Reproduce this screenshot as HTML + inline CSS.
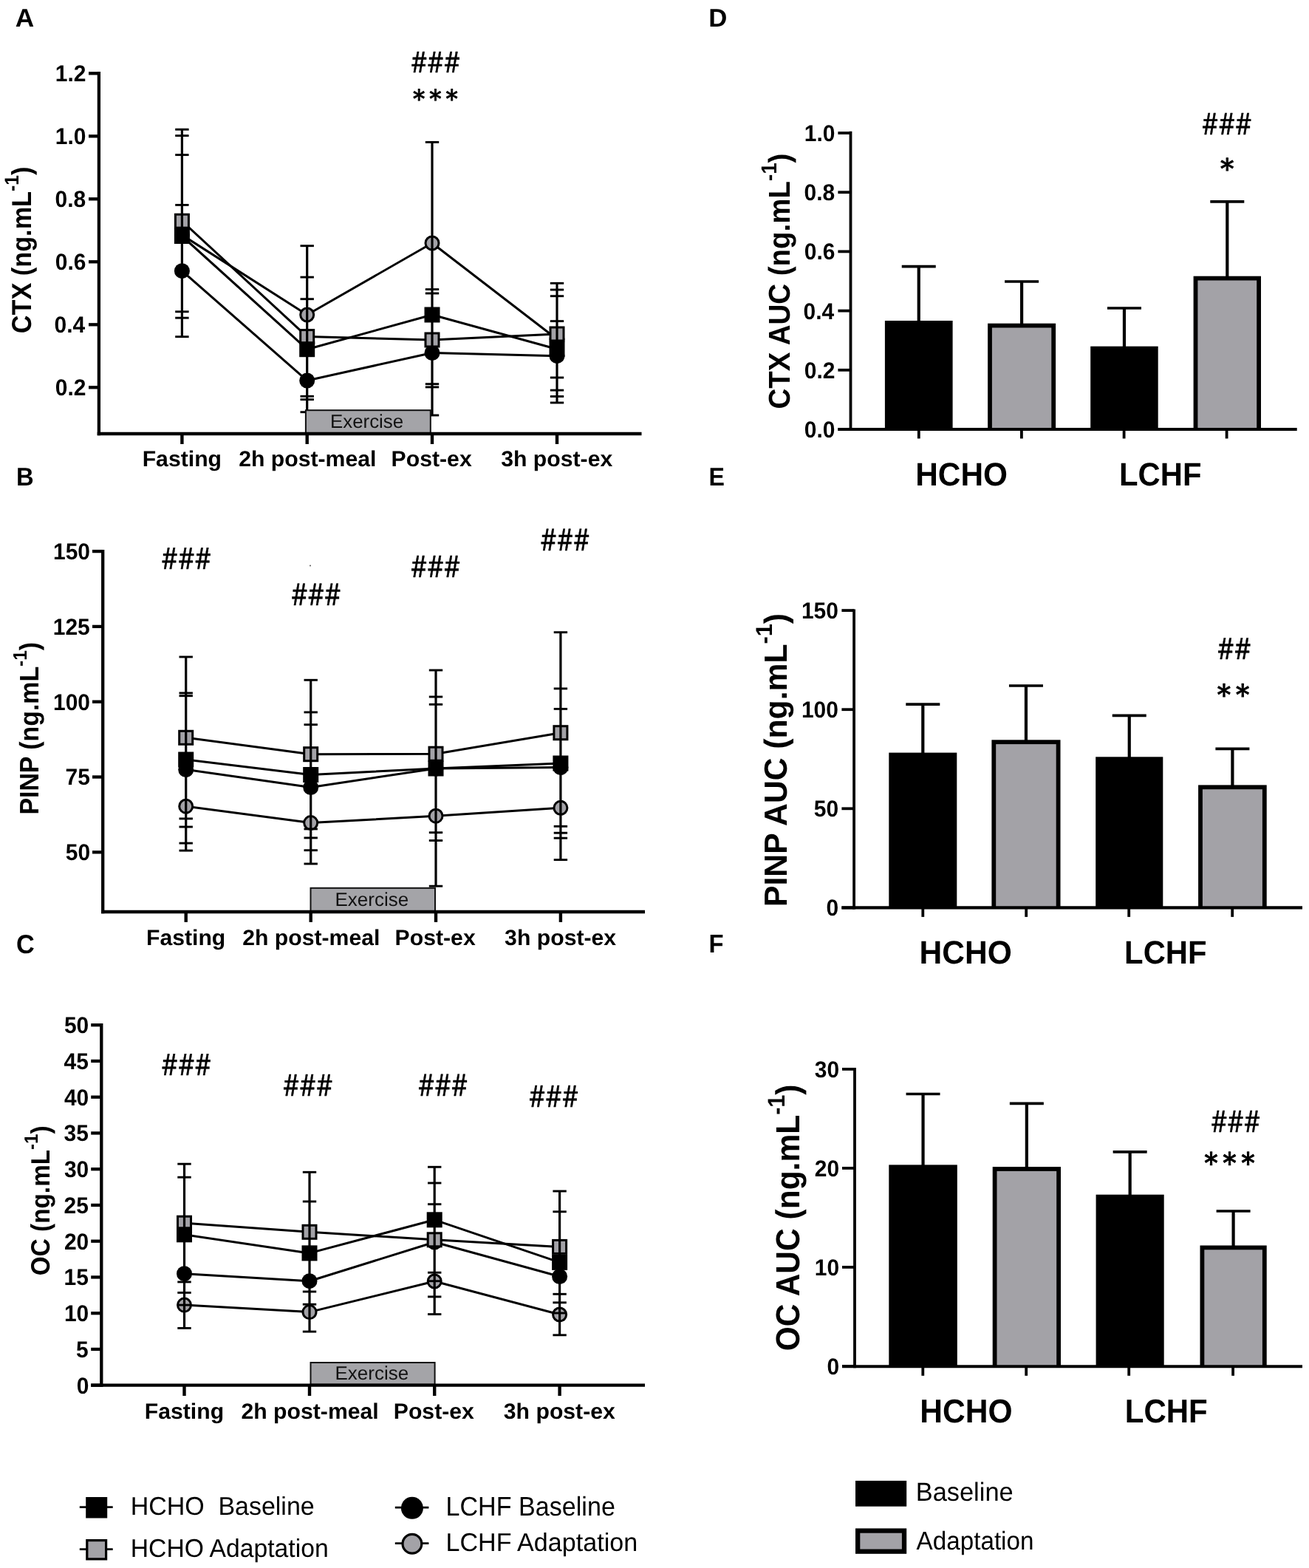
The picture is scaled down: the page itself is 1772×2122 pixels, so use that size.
<!DOCTYPE html>
<html><head><meta charset="utf-8"><title>Figure</title>
<style>html,body{margin:0;padding:0;background:#fff;}svg{display:block;}</style></head>
<body>
<svg width="1772" height="2122" viewBox="0 0 1772 2122" text-rendering="geometricPrecision">
<rect width="1772" height="2122" fill="#fff"/>
<text transform="matrix(0.353,0,0,0.3464,20.8409,35.8)" font-size="100" font-family="&quot;Liberation Sans&quot;, sans-serif" font-weight="bold" fill="#000">A</text>
<polyline points="246.4,318 415.7,426 585,329 754,459" fill="none" stroke="#000" stroke-width="3" stroke-linejoin="round"/>
<polyline points="246.4,366.7 415.7,515 585,477.5 754,481.7" fill="none" stroke="#000" stroke-width="3" stroke-linejoin="round"/>
<polyline points="246.4,299.2 415.7,455.6 585,460 754,452" fill="none" stroke="#000" stroke-width="3" stroke-linejoin="round"/>
<polyline points="246.4,319.5 415.7,472.7 585,426 754,472.5" fill="none" stroke="#000" stroke-width="3" stroke-linejoin="round"/>
<circle cx="246.4" cy="318" r="9" fill="#a3a2a7" stroke="#000" stroke-width="3"/>
<circle cx="415.7" cy="426" r="9" fill="#a3a2a7" stroke="#000" stroke-width="3"/>
<circle cx="585" cy="329" r="9" fill="#a3a2a7" stroke="#000" stroke-width="3"/>
<circle cx="754" cy="459" r="9" fill="#a3a2a7" stroke="#000" stroke-width="3"/>
<circle cx="246.4" cy="366.7" r="10.5" fill="#000"/>
<circle cx="415.7" cy="515" r="10.5" fill="#000"/>
<circle cx="585" cy="477.5" r="10.5" fill="#000"/>
<circle cx="754" cy="481.7" r="10.5" fill="#000"/>
<rect x="237.4" y="290.2" width="18" height="18" fill="#a3a2a7" stroke="#000" stroke-width="3"/>
<rect x="406.7" y="446.6" width="18" height="18" fill="#a3a2a7" stroke="#000" stroke-width="3"/>
<rect x="576" y="451" width="18" height="18" fill="#a3a2a7" stroke="#000" stroke-width="3"/>
<rect x="745" y="443" width="18" height="18" fill="#a3a2a7" stroke="#000" stroke-width="3"/>
<rect x="235.9" y="309" width="21" height="21" fill="#000"/>
<rect x="405.2" y="462.2" width="21" height="21" fill="#000"/>
<rect x="574.5" y="415.5" width="21" height="21" fill="#000"/>
<rect x="743.5" y="462" width="21" height="21" fill="#000"/>
<line x1="246.4" y1="175.2" x2="246.4" y2="455.7" stroke="#000" stroke-width="3.2" stroke-linecap="butt"/>
<line x1="237.2" y1="175.2" x2="255.6" y2="175.2" stroke="#000" stroke-width="2.9" stroke-linecap="butt"/>
<line x1="237.2" y1="183.6" x2="255.6" y2="183.6" stroke="#000" stroke-width="2.9" stroke-linecap="butt"/>
<line x1="237.2" y1="209.6" x2="255.6" y2="209.6" stroke="#000" stroke-width="2.9" stroke-linecap="butt"/>
<line x1="237.2" y1="277.4" x2="255.6" y2="277.4" stroke="#000" stroke-width="2.9" stroke-linecap="butt"/>
<line x1="237.2" y1="421.8" x2="255.6" y2="421.8" stroke="#000" stroke-width="2.9" stroke-linecap="butt"/>
<line x1="237.2" y1="430.2" x2="255.6" y2="430.2" stroke="#000" stroke-width="2.9" stroke-linecap="butt"/>
<line x1="237.2" y1="455.7" x2="255.6" y2="455.7" stroke="#000" stroke-width="2.9" stroke-linecap="butt"/>
<line x1="415.7" y1="332.7" x2="415.7" y2="557.7" stroke="#000" stroke-width="3.2" stroke-linecap="butt"/>
<line x1="406.5" y1="332.7" x2="424.9" y2="332.7" stroke="#000" stroke-width="2.9" stroke-linecap="butt"/>
<line x1="406.5" y1="375.1" x2="424.9" y2="375.1" stroke="#000" stroke-width="2.9" stroke-linecap="butt"/>
<line x1="406.5" y1="404.7" x2="424.9" y2="404.7" stroke="#000" stroke-width="2.9" stroke-linecap="butt"/>
<line x1="406.5" y1="536.3" x2="424.9" y2="536.3" stroke="#000" stroke-width="2.9" stroke-linecap="butt"/>
<line x1="406.5" y1="540.7" x2="424.9" y2="540.7" stroke="#000" stroke-width="2.9" stroke-linecap="butt"/>
<line x1="406.5" y1="557.7" x2="424.9" y2="557.7" stroke="#000" stroke-width="2.9" stroke-linecap="butt"/>
<line x1="585" y1="192.4" x2="585" y2="562" stroke="#000" stroke-width="3.2" stroke-linecap="butt"/>
<line x1="575.8" y1="192.4" x2="594.2" y2="192.4" stroke="#000" stroke-width="2.9" stroke-linecap="butt"/>
<line x1="575.8" y1="391.6" x2="594.2" y2="391.6" stroke="#000" stroke-width="2.9" stroke-linecap="butt"/>
<line x1="575.8" y1="397" x2="594.2" y2="397" stroke="#000" stroke-width="2.9" stroke-linecap="butt"/>
<line x1="575.8" y1="519.7" x2="594.2" y2="519.7" stroke="#000" stroke-width="2.9" stroke-linecap="butt"/>
<line x1="575.8" y1="523.9" x2="594.2" y2="523.9" stroke="#000" stroke-width="2.9" stroke-linecap="butt"/>
<line x1="575.8" y1="562" x2="594.2" y2="562" stroke="#000" stroke-width="2.9" stroke-linecap="butt"/>
<line x1="754" y1="383.3" x2="754" y2="545" stroke="#000" stroke-width="3.2" stroke-linecap="butt"/>
<line x1="744.8" y1="383.3" x2="763.2" y2="383.3" stroke="#000" stroke-width="2.9" stroke-linecap="butt"/>
<line x1="744.8" y1="392.1" x2="763.2" y2="392.1" stroke="#000" stroke-width="2.9" stroke-linecap="butt"/>
<line x1="744.8" y1="400.7" x2="763.2" y2="400.7" stroke="#000" stroke-width="2.9" stroke-linecap="butt"/>
<line x1="744.8" y1="434.6" x2="763.2" y2="434.6" stroke="#000" stroke-width="2.9" stroke-linecap="butt"/>
<line x1="744.8" y1="511" x2="763.2" y2="511" stroke="#000" stroke-width="2.9" stroke-linecap="butt"/>
<line x1="744.8" y1="528.1" x2="763.2" y2="528.1" stroke="#000" stroke-width="2.9" stroke-linecap="butt"/>
<line x1="744.8" y1="536.5" x2="763.2" y2="536.5" stroke="#000" stroke-width="2.9" stroke-linecap="butt"/>
<line x1="744.8" y1="545" x2="763.2" y2="545" stroke="#000" stroke-width="2.9" stroke-linecap="butt"/>
<rect x="413.9" y="555.2" width="168.9" height="30.8" fill="#a4a4a8" stroke="#111" stroke-width="2"/>
<text transform="matrix(0.2588,0,0,0.258,446.9299,579.3)" font-size="100" font-family="&quot;Liberation Sans&quot;, sans-serif" font-weight="normal" fill="#111">Exercise</text>
<line x1="133.9" y1="97.1" x2="133.9" y2="589.2" stroke="#000" stroke-width="4.3" stroke-linecap="butt"/>
<line x1="131.7" y1="587" x2="868.5" y2="587" stroke="#000" stroke-width="4.3" stroke-linecap="butt"/>
<line x1="120" y1="99.3" x2="133.9" y2="99.3" stroke="#000" stroke-width="4.3" stroke-linecap="butt"/>
<line x1="120" y1="184.3" x2="133.9" y2="184.3" stroke="#000" stroke-width="4.3" stroke-linecap="butt"/>
<line x1="120" y1="269.3" x2="133.9" y2="269.3" stroke="#000" stroke-width="4.3" stroke-linecap="butt"/>
<line x1="120" y1="354.3" x2="133.9" y2="354.3" stroke="#000" stroke-width="4.3" stroke-linecap="butt"/>
<line x1="120" y1="439.3" x2="133.9" y2="439.3" stroke="#000" stroke-width="4.3" stroke-linecap="butt"/>
<line x1="120" y1="524.3" x2="133.9" y2="524.3" stroke="#000" stroke-width="4.3" stroke-linecap="butt"/>
<line x1="246.4" y1="587" x2="246.4" y2="601" stroke="#000" stroke-width="4.4" stroke-linecap="butt"/>
<line x1="415.7" y1="587" x2="415.7" y2="601" stroke="#000" stroke-width="4.4" stroke-linecap="butt"/>
<line x1="585" y1="587" x2="585" y2="601" stroke="#000" stroke-width="4.4" stroke-linecap="butt"/>
<line x1="754" y1="587" x2="754" y2="601" stroke="#000" stroke-width="4.4" stroke-linecap="butt"/>
<text transform="matrix(0.3736,0,0,0.4101,555.8793,97.5)" font-size="100" font-family="&quot;WenQuanYi Zen Hei&quot;, &quot;Liberation Sans&quot;, sans-serif" font-weight="normal" fill="#000" stroke="#000" stroke-width="1" stroke-linejoin="round">###</text>
<text transform="matrix(0.3698,0,0,0.3733,556.0722,146.2333)" font-size="100" font-family="&quot;WenQuanYi Zen Hei&quot;, &quot;Liberation Sans&quot;, sans-serif" font-weight="normal" fill="#000" stroke="#000" stroke-width="2.5" stroke-linejoin="round">***</text>
<text transform="matrix(0,-0.3428,0.3725,0,41.8,451.2713)" font-size="100" font-family="&quot;Liberation Sans&quot;, sans-serif" font-weight="bold" fill="#000">CTX (ng.mL<tspan font-size="72" dy="-45">-1</tspan><tspan dy="45">)</tspan></text>
<text transform="matrix(0.3279,0,0,0.3464,21.9049,656.9)" font-size="100" font-family="&quot;Liberation Sans&quot;, sans-serif" font-weight="bold" fill="#000">B</text>
<polyline points="251.7,1091.2 420.7,1113.6 590,1104.2 758.9,1093.3" fill="none" stroke="#000" stroke-width="3" stroke-linejoin="round"/>
<polyline points="251.7,1041.5 420.7,1065.5 590,1040 758.9,1038.5" fill="none" stroke="#000" stroke-width="3" stroke-linejoin="round"/>
<polyline points="251.7,998.3 420.7,1020.7 590,1020.2 758.9,991.7" fill="none" stroke="#000" stroke-width="3" stroke-linejoin="round"/>
<polyline points="251.7,1028 420.7,1048.5 590,1040 758.9,1033" fill="none" stroke="#000" stroke-width="3" stroke-linejoin="round"/>
<circle cx="251.7" cy="1091.2" r="9" fill="#a3a2a7" stroke="#000" stroke-width="3"/>
<circle cx="420.7" cy="1113.6" r="9" fill="#a3a2a7" stroke="#000" stroke-width="3"/>
<circle cx="590" cy="1104.2" r="9" fill="#a3a2a7" stroke="#000" stroke-width="3"/>
<circle cx="758.9" cy="1093.3" r="9" fill="#a3a2a7" stroke="#000" stroke-width="3"/>
<circle cx="251.7" cy="1041.5" r="10.5" fill="#000"/>
<circle cx="420.7" cy="1065.5" r="10.5" fill="#000"/>
<circle cx="590" cy="1040" r="10.5" fill="#000"/>
<circle cx="758.9" cy="1038.5" r="10.5" fill="#000"/>
<rect x="242.7" y="989.3" width="18" height="18" fill="#a3a2a7" stroke="#000" stroke-width="3"/>
<rect x="411.7" y="1011.7" width="18" height="18" fill="#a3a2a7" stroke="#000" stroke-width="3"/>
<rect x="581" y="1011.2" width="18" height="18" fill="#a3a2a7" stroke="#000" stroke-width="3"/>
<rect x="749.9" y="982.7" width="18" height="18" fill="#a3a2a7" stroke="#000" stroke-width="3"/>
<rect x="241.2" y="1017.5" width="21" height="21" fill="#000"/>
<rect x="410.2" y="1038" width="21" height="21" fill="#000"/>
<rect x="579.5" y="1029.5" width="21" height="21" fill="#000"/>
<rect x="748.4" y="1022.5" width="21" height="21" fill="#000"/>
<line x1="251.7" y1="889" x2="251.7" y2="1151.1" stroke="#000" stroke-width="3.2" stroke-linecap="butt"/>
<line x1="242.5" y1="889" x2="260.9" y2="889" stroke="#000" stroke-width="2.9" stroke-linecap="butt"/>
<line x1="242.5" y1="937.9" x2="260.9" y2="937.9" stroke="#000" stroke-width="2.9" stroke-linecap="butt"/>
<line x1="242.5" y1="941.7" x2="260.9" y2="941.7" stroke="#000" stroke-width="2.9" stroke-linecap="butt"/>
<line x1="242.5" y1="1107.9" x2="260.9" y2="1107.9" stroke="#000" stroke-width="2.9" stroke-linecap="butt"/>
<line x1="242.5" y1="1119" x2="260.9" y2="1119" stroke="#000" stroke-width="2.9" stroke-linecap="butt"/>
<line x1="242.5" y1="1141.1" x2="260.9" y2="1141.1" stroke="#000" stroke-width="2.9" stroke-linecap="butt"/>
<line x1="242.5" y1="1151.1" x2="260.9" y2="1151.1" stroke="#000" stroke-width="2.9" stroke-linecap="butt"/>
<line x1="420.7" y1="920.3" x2="420.7" y2="1169" stroke="#000" stroke-width="3.2" stroke-linecap="butt"/>
<line x1="411.5" y1="920.3" x2="429.9" y2="920.3" stroke="#000" stroke-width="2.9" stroke-linecap="butt"/>
<line x1="411.5" y1="963.9" x2="429.9" y2="963.9" stroke="#000" stroke-width="2.9" stroke-linecap="butt"/>
<line x1="411.5" y1="980.7" x2="429.9" y2="980.7" stroke="#000" stroke-width="2.9" stroke-linecap="butt"/>
<line x1="411.5" y1="1121.9" x2="429.9" y2="1121.9" stroke="#000" stroke-width="2.9" stroke-linecap="butt"/>
<line x1="411.5" y1="1133.9" x2="429.9" y2="1133.9" stroke="#000" stroke-width="2.9" stroke-linecap="butt"/>
<line x1="411.5" y1="1150.7" x2="429.9" y2="1150.7" stroke="#000" stroke-width="2.9" stroke-linecap="butt"/>
<line x1="411.5" y1="1169" x2="429.9" y2="1169" stroke="#000" stroke-width="2.9" stroke-linecap="butt"/>
<line x1="590" y1="907" x2="590" y2="1199.2" stroke="#000" stroke-width="3.2" stroke-linecap="butt"/>
<line x1="580.8" y1="907" x2="599.2" y2="907" stroke="#000" stroke-width="2.9" stroke-linecap="butt"/>
<line x1="580.8" y1="943" x2="599.2" y2="943" stroke="#000" stroke-width="2.9" stroke-linecap="butt"/>
<line x1="580.8" y1="953.3" x2="599.2" y2="953.3" stroke="#000" stroke-width="2.9" stroke-linecap="butt"/>
<line x1="580.8" y1="1126.7" x2="599.2" y2="1126.7" stroke="#000" stroke-width="2.9" stroke-linecap="butt"/>
<line x1="580.8" y1="1137.5" x2="599.2" y2="1137.5" stroke="#000" stroke-width="2.9" stroke-linecap="butt"/>
<line x1="580.8" y1="1199.2" x2="599.2" y2="1199.2" stroke="#000" stroke-width="2.9" stroke-linecap="butt"/>
<line x1="758.9" y1="855.7" x2="758.9" y2="1163.6" stroke="#000" stroke-width="3.2" stroke-linecap="butt"/>
<line x1="749.7" y1="855.7" x2="768.1" y2="855.7" stroke="#000" stroke-width="2.9" stroke-linecap="butt"/>
<line x1="749.7" y1="931.9" x2="768.1" y2="931.9" stroke="#000" stroke-width="2.9" stroke-linecap="butt"/>
<line x1="749.7" y1="959.4" x2="768.1" y2="959.4" stroke="#000" stroke-width="2.9" stroke-linecap="butt"/>
<line x1="749.7" y1="1118.3" x2="768.1" y2="1118.3" stroke="#000" stroke-width="2.9" stroke-linecap="butt"/>
<line x1="749.7" y1="1127.2" x2="768.1" y2="1127.2" stroke="#000" stroke-width="2.9" stroke-linecap="butt"/>
<line x1="749.7" y1="1134.2" x2="768.1" y2="1134.2" stroke="#000" stroke-width="2.9" stroke-linecap="butt"/>
<line x1="749.7" y1="1163.6" x2="768.1" y2="1163.6" stroke="#000" stroke-width="2.9" stroke-linecap="butt"/>
<rect x="420.5" y="1201.8" width="168.5" height="31.2" fill="#a4a4a8" stroke="#111" stroke-width="2"/>
<text transform="matrix(0.2596,0,0,0.258,453.5235,1225.8)" font-size="100" font-family="&quot;Liberation Sans&quot;, sans-serif" font-weight="normal" fill="#111">Exercise</text>
<line x1="139.2" y1="743.9" x2="139.2" y2="1236.2" stroke="#000" stroke-width="4.3" stroke-linecap="butt"/>
<line x1="137" y1="1234" x2="873" y2="1234" stroke="#000" stroke-width="4.3" stroke-linecap="butt"/>
<line x1="125" y1="746.1" x2="139.2" y2="746.1" stroke="#000" stroke-width="4.3" stroke-linecap="butt"/>
<line x1="125" y1="847.9" x2="139.2" y2="847.9" stroke="#000" stroke-width="4.3" stroke-linecap="butt"/>
<line x1="125" y1="949.7" x2="139.2" y2="949.7" stroke="#000" stroke-width="4.3" stroke-linecap="butt"/>
<line x1="125" y1="1051.5" x2="139.2" y2="1051.5" stroke="#000" stroke-width="4.3" stroke-linecap="butt"/>
<line x1="125" y1="1153.3" x2="139.2" y2="1153.3" stroke="#000" stroke-width="4.3" stroke-linecap="butt"/>
<line x1="251.7" y1="1234" x2="251.7" y2="1247.9" stroke="#000" stroke-width="4.4" stroke-linecap="butt"/>
<line x1="420.7" y1="1234" x2="420.7" y2="1247.9" stroke="#000" stroke-width="4.4" stroke-linecap="butt"/>
<line x1="590" y1="1234" x2="590" y2="1247.9" stroke="#000" stroke-width="4.4" stroke-linecap="butt"/>
<line x1="758.9" y1="1234" x2="758.9" y2="1247.9" stroke="#000" stroke-width="4.4" stroke-linecap="butt"/>
<text transform="matrix(0.3759,0,0,0.4203,218.3724,770.2)" font-size="100" font-family="&quot;WenQuanYi Zen Hei&quot;, &quot;Liberation Sans&quot;, sans-serif" font-weight="normal" fill="#000" stroke="#000" stroke-width="1" stroke-linejoin="round">###</text>
<text transform="matrix(0.3759,0,0,0.4261,393.9724,818.5)" font-size="100" font-family="&quot;WenQuanYi Zen Hei&quot;, &quot;Liberation Sans&quot;, sans-serif" font-weight="normal" fill="#000" stroke="#000" stroke-width="1" stroke-linejoin="round">###</text>
<text transform="matrix(0.3759,0,0,0.4246,555.6724,781.2)" font-size="100" font-family="&quot;WenQuanYi Zen Hei&quot;, &quot;Liberation Sans&quot;, sans-serif" font-weight="normal" fill="#000" stroke="#000" stroke-width="1" stroke-linejoin="round">###</text>
<text transform="matrix(0.373,0,0,0.4275,731.281,745)" font-size="100" font-family="&quot;WenQuanYi Zen Hei&quot;, &quot;Liberation Sans&quot;, sans-serif" font-weight="normal" fill="#000" stroke="#000" stroke-width="1" stroke-linejoin="round">###</text>
<text transform="matrix(0,-0.3386,0.3623,0,52.4,1102.5705)" font-size="100" font-family="&quot;Liberation Sans&quot;, sans-serif" font-weight="bold" fill="#000">PINP (ng.mL<tspan font-size="72" dy="-45">-1</tspan><tspan dy="45">)</tspan></text>
<circle cx="420" cy="765.5" r="0.9" fill="#444"/>
<text transform="matrix(0.3431,0,0,0.3563,21.9277,1289.7437)" font-size="100" font-family="&quot;Liberation Sans&quot;, sans-serif" font-weight="bold" fill="#000">C</text>
<polyline points="249.5,1766.1 419,1775.6 588.2,1734 757.6,1779" fill="none" stroke="#000" stroke-width="3" stroke-linejoin="round"/>
<polyline points="249.5,1723.7 419,1733.7 588.2,1681 757.6,1727.5" fill="none" stroke="#000" stroke-width="3" stroke-linejoin="round"/>
<polyline points="249.5,1655.2 419,1667.3 588.2,1677.8 757.6,1687.4" fill="none" stroke="#000" stroke-width="3" stroke-linejoin="round"/>
<polyline points="249.5,1670.8 419,1695.9 588.2,1650.8 757.6,1708.4" fill="none" stroke="#000" stroke-width="3" stroke-linejoin="round"/>
<circle cx="249.5" cy="1766.1" r="9" fill="#a3a2a7" stroke="#000" stroke-width="3"/>
<circle cx="419" cy="1775.6" r="9" fill="#a3a2a7" stroke="#000" stroke-width="3"/>
<circle cx="588.2" cy="1734" r="9" fill="#a3a2a7" stroke="#000" stroke-width="3"/>
<circle cx="757.6" cy="1779" r="9" fill="#a3a2a7" stroke="#000" stroke-width="3"/>
<circle cx="249.5" cy="1723.7" r="10.5" fill="#000"/>
<circle cx="419" cy="1733.7" r="10.5" fill="#000"/>
<circle cx="588.2" cy="1681" r="10.5" fill="#000"/>
<circle cx="757.6" cy="1727.5" r="10.5" fill="#000"/>
<rect x="240.5" y="1646.2" width="18" height="18" fill="#a3a2a7" stroke="#000" stroke-width="3"/>
<rect x="410" y="1658.3" width="18" height="18" fill="#a3a2a7" stroke="#000" stroke-width="3"/>
<rect x="579.2" y="1668.8" width="18" height="18" fill="#a3a2a7" stroke="#000" stroke-width="3"/>
<rect x="748.6" y="1678.4" width="18" height="18" fill="#a3a2a7" stroke="#000" stroke-width="3"/>
<rect x="239" y="1660.3" width="21" height="21" fill="#000"/>
<rect x="408.5" y="1685.4" width="21" height="21" fill="#000"/>
<rect x="577.7" y="1640.3" width="21" height="21" fill="#000"/>
<rect x="747.1" y="1697.9" width="21" height="21" fill="#000"/>
<line x1="249.5" y1="1575.2" x2="249.5" y2="1797.4" stroke="#000" stroke-width="3.2" stroke-linecap="butt"/>
<line x1="240.3" y1="1575.2" x2="258.7" y2="1575.2" stroke="#000" stroke-width="2.9" stroke-linecap="butt"/>
<line x1="240.3" y1="1593.2" x2="258.7" y2="1593.2" stroke="#000" stroke-width="2.9" stroke-linecap="butt"/>
<line x1="240.3" y1="1734.9" x2="258.7" y2="1734.9" stroke="#000" stroke-width="2.9" stroke-linecap="butt"/>
<line x1="240.3" y1="1749.4" x2="258.7" y2="1749.4" stroke="#000" stroke-width="2.9" stroke-linecap="butt"/>
<line x1="240.3" y1="1766.1" x2="258.7" y2="1766.1" stroke="#000" stroke-width="2.9" stroke-linecap="butt"/>
<line x1="240.3" y1="1797.4" x2="258.7" y2="1797.4" stroke="#000" stroke-width="2.9" stroke-linecap="butt"/>
<line x1="419" y1="1586.3" x2="419" y2="1802.1" stroke="#000" stroke-width="3.2" stroke-linecap="butt"/>
<line x1="409.8" y1="1586.3" x2="428.2" y2="1586.3" stroke="#000" stroke-width="2.9" stroke-linecap="butt"/>
<line x1="409.8" y1="1626" x2="428.2" y2="1626" stroke="#000" stroke-width="2.9" stroke-linecap="butt"/>
<line x1="409.8" y1="1748" x2="428.2" y2="1748" stroke="#000" stroke-width="2.9" stroke-linecap="butt"/>
<line x1="409.8" y1="1765.2" x2="428.2" y2="1765.2" stroke="#000" stroke-width="2.9" stroke-linecap="butt"/>
<line x1="409.8" y1="1802.1" x2="428.2" y2="1802.1" stroke="#000" stroke-width="2.9" stroke-linecap="butt"/>
<line x1="588.2" y1="1579.3" x2="588.2" y2="1778.6" stroke="#000" stroke-width="3.2" stroke-linecap="butt"/>
<line x1="579" y1="1579.3" x2="597.4" y2="1579.3" stroke="#000" stroke-width="2.9" stroke-linecap="butt"/>
<line x1="579" y1="1601" x2="597.4" y2="1601" stroke="#000" stroke-width="2.9" stroke-linecap="butt"/>
<line x1="579" y1="1629.7" x2="597.4" y2="1629.7" stroke="#000" stroke-width="2.9" stroke-linecap="butt"/>
<line x1="579" y1="1722.2" x2="597.4" y2="1722.2" stroke="#000" stroke-width="2.9" stroke-linecap="butt"/>
<line x1="579" y1="1733.7" x2="597.4" y2="1733.7" stroke="#000" stroke-width="2.9" stroke-linecap="butt"/>
<line x1="579" y1="1754.9" x2="597.4" y2="1754.9" stroke="#000" stroke-width="2.9" stroke-linecap="butt"/>
<line x1="579" y1="1778.6" x2="597.4" y2="1778.6" stroke="#000" stroke-width="2.9" stroke-linecap="butt"/>
<line x1="757.6" y1="1612" x2="757.6" y2="1806.8" stroke="#000" stroke-width="3.2" stroke-linecap="butt"/>
<line x1="748.4" y1="1612" x2="766.8" y2="1612" stroke="#000" stroke-width="2.9" stroke-linecap="butt"/>
<line x1="748.4" y1="1639.8" x2="766.8" y2="1639.8" stroke="#000" stroke-width="2.9" stroke-linecap="butt"/>
<line x1="748.4" y1="1751.3" x2="766.8" y2="1751.3" stroke="#000" stroke-width="2.9" stroke-linecap="butt"/>
<line x1="748.4" y1="1762.8" x2="766.8" y2="1762.8" stroke="#000" stroke-width="2.9" stroke-linecap="butt"/>
<line x1="748.4" y1="1777" x2="766.8" y2="1777" stroke="#000" stroke-width="2.9" stroke-linecap="butt"/>
<line x1="748.4" y1="1806.8" x2="766.8" y2="1806.8" stroke="#000" stroke-width="2.9" stroke-linecap="butt"/>
<rect x="420.5" y="1844" width="168.1" height="29.7" fill="#a4a4a8" stroke="#111" stroke-width="2"/>
<text transform="matrix(0.2596,0,0,0.258,453.5235,1866.8)" font-size="100" font-family="&quot;Liberation Sans&quot;, sans-serif" font-weight="normal" fill="#111">Exercise</text>
<line x1="137.3" y1="1384.9" x2="137.3" y2="1876.9" stroke="#000" stroke-width="4.3" stroke-linecap="butt"/>
<line x1="123.2" y1="1874.7" x2="873" y2="1874.7" stroke="#000" stroke-width="4.3" stroke-linecap="butt"/>
<line x1="123.2" y1="1387.2" x2="137.3" y2="1387.2" stroke="#000" stroke-width="4.3" stroke-linecap="butt"/>
<line x1="123.2" y1="1435.95" x2="137.3" y2="1435.95" stroke="#000" stroke-width="4.3" stroke-linecap="butt"/>
<line x1="123.2" y1="1484.7" x2="137.3" y2="1484.7" stroke="#000" stroke-width="4.3" stroke-linecap="butt"/>
<line x1="123.2" y1="1533.45" x2="137.3" y2="1533.45" stroke="#000" stroke-width="4.3" stroke-linecap="butt"/>
<line x1="123.2" y1="1582.2" x2="137.3" y2="1582.2" stroke="#000" stroke-width="4.3" stroke-linecap="butt"/>
<line x1="123.2" y1="1630.95" x2="137.3" y2="1630.95" stroke="#000" stroke-width="4.3" stroke-linecap="butt"/>
<line x1="123.2" y1="1679.7" x2="137.3" y2="1679.7" stroke="#000" stroke-width="4.3" stroke-linecap="butt"/>
<line x1="123.2" y1="1728.45" x2="137.3" y2="1728.45" stroke="#000" stroke-width="4.3" stroke-linecap="butt"/>
<line x1="123.2" y1="1777.2" x2="137.3" y2="1777.2" stroke="#000" stroke-width="4.3" stroke-linecap="butt"/>
<line x1="123.2" y1="1825.95" x2="137.3" y2="1825.95" stroke="#000" stroke-width="4.3" stroke-linecap="butt"/>
<line x1="123.2" y1="1874.7" x2="137.3" y2="1874.7" stroke="#000" stroke-width="4.3" stroke-linecap="butt"/>
<line x1="249.5" y1="1874.7" x2="249.5" y2="1889" stroke="#000" stroke-width="4.4" stroke-linecap="butt"/>
<line x1="419" y1="1874.7" x2="419" y2="1889" stroke="#000" stroke-width="4.4" stroke-linecap="butt"/>
<line x1="588.2" y1="1874.7" x2="588.2" y2="1889" stroke="#000" stroke-width="4.4" stroke-linecap="butt"/>
<line x1="757.6" y1="1874.7" x2="757.6" y2="1889" stroke="#000" stroke-width="4.4" stroke-linecap="butt"/>
<text transform="matrix(0.3759,0,0,0.4203,218.3724,1455)" font-size="100" font-family="&quot;WenQuanYi Zen Hei&quot;, &quot;Liberation Sans&quot;, sans-serif" font-weight="normal" fill="#000" stroke="#000" stroke-width="1" stroke-linejoin="round">###</text>
<text transform="matrix(0.3764,0,0,0.4232,382.7707,1483.1)" font-size="100" font-family="&quot;WenQuanYi Zen Hei&quot;, &quot;Liberation Sans&quot;, sans-serif" font-weight="normal" fill="#000" stroke="#000" stroke-width="1" stroke-linejoin="round">###</text>
<text transform="matrix(0.3764,0,0,0.4275,565.6707,1483.1)" font-size="100" font-family="&quot;WenQuanYi Zen Hei&quot;, &quot;Liberation Sans&quot;, sans-serif" font-weight="normal" fill="#000" stroke="#000" stroke-width="1" stroke-linejoin="round">###</text>
<text transform="matrix(0.3759,0,0,0.4232,715.7724,1498.3)" font-size="100" font-family="&quot;WenQuanYi Zen Hei&quot;, &quot;Liberation Sans&quot;, sans-serif" font-weight="normal" fill="#000" stroke="#000" stroke-width="1" stroke-linejoin="round">###</text>
<text transform="matrix(0,-0.3331,0.358,0,67.2,1726.1322)" font-size="100" font-family="&quot;Liberation Sans&quot;, sans-serif" font-weight="bold" fill="#000">OC (ng.mL<tspan font-size="72" dy="-45">-1</tspan><tspan dy="45">)</tspan></text>
<text transform="matrix(0.3475,0,0,0.3464,959.2672,35.8)" font-size="100" font-family="&quot;Liberation Sans&quot;, sans-serif" font-weight="bold" fill="#000">D</text>
<rect x="1197.9" y="434" width="91.7" height="147" fill="#000"/>
<rect x="1337.1" y="437.7" width="92" height="143.3" fill="#000"/>
<rect x="1342.9" y="443.5" width="80.4" height="137.5" fill="#a3a2a7"/>
<rect x="1476.2" y="468.7" width="91.5" height="112.3" fill="#000"/>
<rect x="1615.6" y="373.7" width="91.4" height="207.3" fill="#000"/>
<rect x="1621.4" y="379.5" width="79.8" height="201.5" fill="#a3a2a7"/>
<line x1="1243.75" y1="360.7" x2="1243.75" y2="435" stroke="#000" stroke-width="4.2" stroke-linecap="butt"/>
<line x1="1220.75" y1="360.7" x2="1266.75" y2="360.7" stroke="#000" stroke-width="3.7" stroke-linecap="butt"/>
<line x1="1383.1" y1="381" x2="1383.1" y2="438.7" stroke="#000" stroke-width="4.2" stroke-linecap="butt"/>
<line x1="1360.1" y1="381" x2="1406.1" y2="381" stroke="#000" stroke-width="3.7" stroke-linecap="butt"/>
<line x1="1521.95" y1="417" x2="1521.95" y2="469.7" stroke="#000" stroke-width="4.2" stroke-linecap="butt"/>
<line x1="1498.95" y1="417" x2="1544.95" y2="417" stroke="#000" stroke-width="3.7" stroke-linecap="butt"/>
<line x1="1661.3" y1="272.8" x2="1661.3" y2="374.7" stroke="#000" stroke-width="4.2" stroke-linecap="butt"/>
<line x1="1638.3" y1="272.8" x2="1684.3" y2="272.8" stroke="#000" stroke-width="3.7" stroke-linecap="butt"/>
<line x1="1151.5" y1="177.8" x2="1151.5" y2="583" stroke="#000" stroke-width="3.8" stroke-linecap="butt"/>
<line x1="1134.4" y1="581" x2="1755.7" y2="581" stroke="#000" stroke-width="4.1" stroke-linecap="butt"/>
<line x1="1134.4" y1="581" x2="1151.5" y2="581" stroke="#000" stroke-width="3.8" stroke-linecap="butt"/>
<line x1="1134.4" y1="500.8" x2="1151.5" y2="500.8" stroke="#000" stroke-width="3.8" stroke-linecap="butt"/>
<line x1="1134.4" y1="420.6" x2="1151.5" y2="420.6" stroke="#000" stroke-width="3.8" stroke-linecap="butt"/>
<line x1="1134.4" y1="340.4" x2="1151.5" y2="340.4" stroke="#000" stroke-width="3.8" stroke-linecap="butt"/>
<line x1="1134.4" y1="260.2" x2="1151.5" y2="260.2" stroke="#000" stroke-width="3.8" stroke-linecap="butt"/>
<line x1="1134.4" y1="180" x2="1151.5" y2="180" stroke="#000" stroke-width="3.8" stroke-linecap="butt"/>
<line x1="1243.8" y1="581" x2="1243.8" y2="593.5" stroke="#000" stroke-width="3.8" stroke-linecap="butt"/>
<line x1="1382.9" y1="581" x2="1382.9" y2="593.5" stroke="#000" stroke-width="3.8" stroke-linecap="butt"/>
<line x1="1521.6" y1="581" x2="1521.6" y2="593.5" stroke="#000" stroke-width="3.8" stroke-linecap="butt"/>
<line x1="1660.6" y1="581" x2="1660.6" y2="593.5" stroke="#000" stroke-width="3.8" stroke-linecap="butt"/>
<text transform="matrix(0.4237,0,0,0.4406,1239.2343,656.6)" font-size="100" font-family="&quot;Liberation Sans&quot;, sans-serif" font-weight="bold" fill="#000">HCHO</text>
<text transform="matrix(0.418,0,0,0.4406,1515.0742,656.6)" font-size="100" font-family="&quot;Liberation Sans&quot;, sans-serif" font-weight="bold" fill="#000">LCHF</text>
<text transform="matrix(0.3764,0,0,0.4232,1626.8707,181.9)" font-size="100" font-family="&quot;WenQuanYi Zen Hei&quot;, &quot;Liberation Sans&quot;, sans-serif" font-weight="normal" fill="#000" stroke="#000" stroke-width="1" stroke-linejoin="round">###</text>
<text transform="matrix(0.4214,0,0,0.4133,1648.4071,242.4333)" font-size="100" font-family="&quot;WenQuanYi Zen Hei&quot;, &quot;Liberation Sans&quot;, sans-serif" font-weight="normal" fill="#000" stroke="#000" stroke-width="2.5" stroke-linejoin="round">*</text>
<text transform="matrix(0,-0.3848,0.4072,0,1068.9,553.5393)" font-size="100" font-family="&quot;Liberation Sans&quot;, sans-serif" font-weight="bold" fill="#000">CTX AUC (ng.mL<tspan font-size="72" dy="-45">-1</tspan><tspan dy="45">)</tspan></text>
<text transform="matrix(0.3214,0,0,0.3464,959.55,656.9)" font-size="100" font-family="&quot;Liberation Sans&quot;, sans-serif" font-weight="bold" fill="#000">E</text>
<rect x="1203.3" y="1018.6" width="92" height="209.8" fill="#000"/>
<rect x="1342.4" y="1001.3" width="93.1" height="227.1" fill="#000"/>
<rect x="1348.2" y="1007.1" width="81.5" height="221.3" fill="#a3a2a7"/>
<rect x="1483.2" y="1024.3" width="91.1" height="204.1" fill="#000"/>
<rect x="1622.1" y="1062.4" width="92.6" height="166" fill="#000"/>
<rect x="1627.9" y="1068.2" width="81" height="160.2" fill="#a3a2a7"/>
<line x1="1249.3" y1="953.1" x2="1249.3" y2="1019.6" stroke="#000" stroke-width="4.2" stroke-linecap="butt"/>
<line x1="1226.3" y1="953.1" x2="1272.3" y2="953.1" stroke="#000" stroke-width="3.7" stroke-linecap="butt"/>
<line x1="1388.95" y1="928" x2="1388.95" y2="1002.3" stroke="#000" stroke-width="4.2" stroke-linecap="butt"/>
<line x1="1365.95" y1="928" x2="1411.95" y2="928" stroke="#000" stroke-width="3.7" stroke-linecap="butt"/>
<line x1="1528.75" y1="968.3" x2="1528.75" y2="1025.3" stroke="#000" stroke-width="4.2" stroke-linecap="butt"/>
<line x1="1505.75" y1="968.3" x2="1551.75" y2="968.3" stroke="#000" stroke-width="3.7" stroke-linecap="butt"/>
<line x1="1668.4" y1="1013.3" x2="1668.4" y2="1063.4" stroke="#000" stroke-width="4.2" stroke-linecap="butt"/>
<line x1="1645.4" y1="1013.3" x2="1691.4" y2="1013.3" stroke="#000" stroke-width="3.7" stroke-linecap="butt"/>
<line x1="1156.1" y1="824.4" x2="1156.1" y2="1230.4" stroke="#000" stroke-width="3.8" stroke-linecap="butt"/>
<line x1="1139.4" y1="1228.4" x2="1763" y2="1228.4" stroke="#000" stroke-width="4.1" stroke-linecap="butt"/>
<line x1="1139.4" y1="1228.4" x2="1156.1" y2="1228.4" stroke="#000" stroke-width="3.8" stroke-linecap="butt"/>
<line x1="1139.4" y1="1094.3" x2="1156.1" y2="1094.3" stroke="#000" stroke-width="3.8" stroke-linecap="butt"/>
<line x1="1139.4" y1="960.2" x2="1156.1" y2="960.2" stroke="#000" stroke-width="3.8" stroke-linecap="butt"/>
<line x1="1139.4" y1="826.1" x2="1156.1" y2="826.1" stroke="#000" stroke-width="3.8" stroke-linecap="butt"/>
<line x1="1249.3" y1="1228.4" x2="1249.3" y2="1240.9" stroke="#000" stroke-width="3.8" stroke-linecap="butt"/>
<line x1="1389.2" y1="1228.4" x2="1389.2" y2="1240.9" stroke="#000" stroke-width="3.8" stroke-linecap="butt"/>
<line x1="1528.2" y1="1228.4" x2="1528.2" y2="1240.9" stroke="#000" stroke-width="3.8" stroke-linecap="butt"/>
<line x1="1668.2" y1="1228.4" x2="1668.2" y2="1240.9" stroke="#000" stroke-width="3.8" stroke-linecap="butt"/>
<text transform="matrix(0.4254,0,0,0.4406,1244.5219,1304.4)" font-size="100" font-family="&quot;Liberation Sans&quot;, sans-serif" font-weight="bold" fill="#000">HCHO</text>
<text transform="matrix(0.4184,0,0,0.4406,1522.0715,1304.4)" font-size="100" font-family="&quot;Liberation Sans&quot;, sans-serif" font-weight="bold" fill="#000">LCHF</text>
<text transform="matrix(0.3833,0,0,0.4159,1647.75,892.4)" font-size="100" font-family="&quot;WenQuanYi Zen Hei&quot;, &quot;Liberation Sans&quot;, sans-serif" font-weight="normal" fill="#000" stroke="#000" stroke-width="1" stroke-linejoin="round">##</text>
<text transform="matrix(0.4206,0,0,0.4178,1644.3147,953.6444)" font-size="100" font-family="&quot;WenQuanYi Zen Hei&quot;, &quot;Liberation Sans&quot;, sans-serif" font-weight="normal" fill="#000" stroke="#000" stroke-width="2.5" stroke-linejoin="round">**</text>
<text transform="matrix(0,-0.4266,0.4348,0,1065,1226.9859)" font-size="100" font-family="&quot;Liberation Sans&quot;, sans-serif" font-weight="bold" fill="#000">PINP AUC (ng.mL<tspan font-size="72" dy="-45">-1</tspan><tspan dy="45">)</tspan></text>
<text transform="matrix(0.328,0,0,0.3493,959.504,1289.4)" font-size="100" font-family="&quot;Liberation Sans&quot;, sans-serif" font-weight="bold" fill="#000">F</text>
<rect x="1203.3" y="1576.4" width="92.5" height="272.9" fill="#000"/>
<rect x="1343.7" y="1579.1" width="92.3" height="270.2" fill="#000"/>
<rect x="1349.5" y="1584.9" width="80.7" height="264.4" fill="#a3a2a7"/>
<rect x="1483.6" y="1616.7" width="92.1" height="232.6" fill="#000"/>
<rect x="1624.5" y="1685.5" width="90.2" height="163.8" fill="#000"/>
<rect x="1630.3" y="1691.3" width="78.6" height="158" fill="#a3a2a7"/>
<line x1="1249.55" y1="1480.5" x2="1249.55" y2="1577.4" stroke="#000" stroke-width="4.2" stroke-linecap="butt"/>
<line x1="1226.55" y1="1480.5" x2="1272.55" y2="1480.5" stroke="#000" stroke-width="3.7" stroke-linecap="butt"/>
<line x1="1389.85" y1="1493.4" x2="1389.85" y2="1580.1" stroke="#000" stroke-width="4.2" stroke-linecap="butt"/>
<line x1="1366.85" y1="1493.4" x2="1412.85" y2="1493.4" stroke="#000" stroke-width="3.7" stroke-linecap="butt"/>
<line x1="1529.65" y1="1558.8" x2="1529.65" y2="1617.7" stroke="#000" stroke-width="4.2" stroke-linecap="butt"/>
<line x1="1506.65" y1="1558.8" x2="1552.65" y2="1558.8" stroke="#000" stroke-width="3.7" stroke-linecap="butt"/>
<line x1="1669.6" y1="1639" x2="1669.6" y2="1686.5" stroke="#000" stroke-width="4.2" stroke-linecap="butt"/>
<line x1="1646.6" y1="1639" x2="1692.6" y2="1639" stroke="#000" stroke-width="3.7" stroke-linecap="butt"/>
<line x1="1157" y1="1445" x2="1157" y2="1851.3" stroke="#000" stroke-width="3.8" stroke-linecap="butt"/>
<line x1="1140" y1="1849.3" x2="1763" y2="1849.3" stroke="#000" stroke-width="4.1" stroke-linecap="butt"/>
<line x1="1140" y1="1848.9" x2="1157" y2="1848.9" stroke="#000" stroke-width="3.8" stroke-linecap="butt"/>
<line x1="1140" y1="1714.9" x2="1157" y2="1714.9" stroke="#000" stroke-width="3.8" stroke-linecap="butt"/>
<line x1="1140" y1="1580.9" x2="1157" y2="1580.9" stroke="#000" stroke-width="3.8" stroke-linecap="butt"/>
<line x1="1140" y1="1446.9" x2="1157" y2="1446.9" stroke="#000" stroke-width="3.8" stroke-linecap="butt"/>
<line x1="1249.3" y1="1849.3" x2="1249.3" y2="1861.8" stroke="#000" stroke-width="3.8" stroke-linecap="butt"/>
<line x1="1389.2" y1="1849.3" x2="1389.2" y2="1861.8" stroke="#000" stroke-width="3.8" stroke-linecap="butt"/>
<line x1="1528.2" y1="1849.3" x2="1528.2" y2="1861.8" stroke="#000" stroke-width="3.8" stroke-linecap="butt"/>
<line x1="1669.1" y1="1849.3" x2="1669.1" y2="1861.8" stroke="#000" stroke-width="3.8" stroke-linecap="butt"/>
<text transform="matrix(0.4254,0,0,0.4464,1245.2219,1925.2)" font-size="100" font-family="&quot;Liberation Sans&quot;, sans-serif" font-weight="bold" fill="#000">HCHO</text>
<text transform="matrix(0.4199,0,0,0.4464,1522.7605,1925.2)" font-size="100" font-family="&quot;Liberation Sans&quot;, sans-serif" font-weight="bold" fill="#000">LCHF</text>
<text transform="matrix(0.3747,0,0,0.4217,1638.8759,1531.5)" font-size="100" font-family="&quot;WenQuanYi Zen Hei&quot;, &quot;Liberation Sans&quot;, sans-serif" font-weight="normal" fill="#000" stroke="#000" stroke-width="1" stroke-linejoin="round">###</text>
<text transform="matrix(0.4154,0,0,0.4244,1627.0611,1587.7111)" font-size="100" font-family="&quot;WenQuanYi Zen Hei&quot;, &quot;Liberation Sans&quot;, sans-serif" font-weight="normal" fill="#000" stroke="#000" stroke-width="2.5" stroke-linejoin="round">***</text>
<text transform="matrix(0,-0.4249,0.4522,0,1082.3,1828.2995)" font-size="100" font-family="&quot;Liberation Sans&quot;, sans-serif" font-weight="bold" fill="#000">OC AUC (ng.mL<tspan font-size="72" dy="-45">-1</tspan><tspan dy="45">)</tspan></text>
<line x1="107.8" y1="2039.6" x2="152.7" y2="2039.6" stroke="#000" stroke-width="2.8" stroke-linecap="butt"/>
<rect x="116.2" y="2026" width="29" height="28.5" fill="#000"/>
<line x1="107.8" y1="2096.7" x2="152.7" y2="2096.7" stroke="#000" stroke-width="2.8" stroke-linecap="butt"/>
<rect x="117.8" y="2084.6" width="25.8" height="25.3" fill="#a3a2a7" stroke="#000" stroke-width="3.2"/>
<text transform="matrix(0.3394,0,0,0.3464,176.6849,2049.9)" font-size="100" font-family="&quot;Liberation Sans&quot;, sans-serif" font-weight="normal" fill="#000" style="white-space:pre">HCHO  Baseline</text>
<text transform="matrix(0.3371,0,0,0.3464,176.7036,2106.9)" font-size="100" font-family="&quot;Liberation Sans&quot;, sans-serif" font-weight="normal" fill="#000">HCHO Adaptation</text>
<line x1="534.8" y1="2040.1" x2="580.4" y2="2040.1" stroke="#000" stroke-width="2.8" stroke-linecap="butt"/>
<circle cx="557.9" cy="2040.8" r="15" fill="#000"/>
<line x1="534.8" y1="2088.7" x2="580.4" y2="2088.7" stroke="#000" stroke-width="2.8" stroke-linecap="butt"/>
<circle cx="557.9" cy="2089.2" r="12.9" fill="#a3a2a7" stroke="#000" stroke-width="3.2"/>
<text transform="matrix(0.3411,0,0,0.3623,603.4715,2051)" font-size="100" font-family="&quot;Liberation Sans&quot;, sans-serif" font-weight="normal" fill="#000">LCHF Baseline</text>
<text transform="matrix(0.341,0,0,0.3464,603.4723,2098.9)" font-size="100" font-family="&quot;Liberation Sans&quot;, sans-serif" font-weight="normal" fill="#000">LCHF Adaptation</text>
<rect x="1158" y="2003.9" width="69.2" height="34.8" fill="#000"/>
<rect x="1161.15" y="2071.55" width="62.9" height="28.1" fill="#a3a2a7" stroke="#000" stroke-width="6.3"/>
<text transform="matrix(0.3434,0,0,0.3522,1239.8528,2030.8)" font-size="100" font-family="&quot;Liberation Sans&quot;, sans-serif" font-weight="normal" fill="#000">Baseline</text>
<text transform="matrix(0.3322,0,0,0.3478,1240.6,2097.2)" font-size="100" font-family="&quot;Liberation Sans&quot;, sans-serif" font-weight="normal" fill="#000">Adaptation</text>
<text transform="matrix(0.3,0,0,0.312,74.8,110.22)" font-size="100" font-family="&quot;Liberation Sans&quot;, sans-serif" font-weight="bold">1.2</text>
<text transform="matrix(0.3,0,0,0.312,74.8,195.22)" font-size="100" font-family="&quot;Liberation Sans&quot;, sans-serif" font-weight="bold">1.0</text>
<text transform="matrix(0.3,0,0,0.312,74.5,280.22)" font-size="100" font-family="&quot;Liberation Sans&quot;, sans-serif" font-weight="bold">0.8</text>
<text transform="matrix(0.3,0,0,0.312,74.8,365.22)" font-size="100" font-family="&quot;Liberation Sans&quot;, sans-serif" font-weight="bold">0.6</text>
<text transform="matrix(0.3,0,0,0.312,73.6,450.22)" font-size="100" font-family="&quot;Liberation Sans&quot;, sans-serif" font-weight="bold">0.4</text>
<text transform="matrix(0.3,0,0,0.312,74.8,535.22)" font-size="100" font-family="&quot;Liberation Sans&quot;, sans-serif" font-weight="bold">0.2</text>
<text transform="matrix(0.302,0,0,0.298,192.64,631.4)" font-size="100" font-family="&quot;Liberation Sans&quot;, sans-serif" font-weight="bold">Fasting</text>
<text transform="matrix(0.302,0,0,0.298,323.14,631.4)" font-size="100" font-family="&quot;Liberation Sans&quot;, sans-serif" font-weight="bold">2h post-meal</text>
<text transform="matrix(0.302,0,0,0.298,529.58,631.4)" font-size="100" font-family="&quot;Liberation Sans&quot;, sans-serif" font-weight="bold">Post-ex</text>
<text transform="matrix(0.302,0,0,0.298,678.2,631.4)" font-size="100" font-family="&quot;Liberation Sans&quot;, sans-serif" font-weight="bold">3h post-ex</text>
<text transform="matrix(0.3,0,0,0.312,72,757.02)" font-size="100" font-family="&quot;Liberation Sans&quot;, sans-serif" font-weight="bold">150</text>
<text transform="matrix(0.3,0,0,0.312,71.7,858.82)" font-size="100" font-family="&quot;Liberation Sans&quot;, sans-serif" font-weight="bold">125</text>
<text transform="matrix(0.3,0,0,0.312,72,960.62)" font-size="100" font-family="&quot;Liberation Sans&quot;, sans-serif" font-weight="bold">100</text>
<text transform="matrix(0.3,0,0,0.312,88.5,1062.42)" font-size="100" font-family="&quot;Liberation Sans&quot;, sans-serif" font-weight="bold">75</text>
<text transform="matrix(0.3,0,0,0.312,88.8,1164.22)" font-size="100" font-family="&quot;Liberation Sans&quot;, sans-serif" font-weight="bold">50</text>
<text transform="matrix(0.302,0,0,0.298,197.94,1278.9)" font-size="100" font-family="&quot;Liberation Sans&quot;, sans-serif" font-weight="bold">Fasting</text>
<text transform="matrix(0.302,0,0,0.298,328.14,1278.9)" font-size="100" font-family="&quot;Liberation Sans&quot;, sans-serif" font-weight="bold">2h post-meal</text>
<text transform="matrix(0.302,0,0,0.298,534.58,1278.9)" font-size="100" font-family="&quot;Liberation Sans&quot;, sans-serif" font-weight="bold">Post-ex</text>
<text transform="matrix(0.302,0,0,0.298,683.1,1278.9)" font-size="100" font-family="&quot;Liberation Sans&quot;, sans-serif" font-weight="bold">3h post-ex</text>
<text transform="matrix(0.3,0,0,0.312,86.9,1398.12)" font-size="100" font-family="&quot;Liberation Sans&quot;, sans-serif" font-weight="bold">50</text>
<text transform="matrix(0.3,0,0,0.312,86.6,1446.87)" font-size="100" font-family="&quot;Liberation Sans&quot;, sans-serif" font-weight="bold">45</text>
<text transform="matrix(0.3,0,0,0.312,86.9,1495.62)" font-size="100" font-family="&quot;Liberation Sans&quot;, sans-serif" font-weight="bold">40</text>
<text transform="matrix(0.3,0,0,0.312,86.6,1544.37)" font-size="100" font-family="&quot;Liberation Sans&quot;, sans-serif" font-weight="bold">35</text>
<text transform="matrix(0.3,0,0,0.312,86.9,1593.12)" font-size="100" font-family="&quot;Liberation Sans&quot;, sans-serif" font-weight="bold">30</text>
<text transform="matrix(0.3,0,0,0.312,86.6,1641.87)" font-size="100" font-family="&quot;Liberation Sans&quot;, sans-serif" font-weight="bold">25</text>
<text transform="matrix(0.3,0,0,0.312,86.9,1690.62)" font-size="100" font-family="&quot;Liberation Sans&quot;, sans-serif" font-weight="bold">20</text>
<text transform="matrix(0.3,0,0,0.312,86.6,1739.37)" font-size="100" font-family="&quot;Liberation Sans&quot;, sans-serif" font-weight="bold">15</text>
<text transform="matrix(0.3,0,0,0.312,86.9,1788.12)" font-size="100" font-family="&quot;Liberation Sans&quot;, sans-serif" font-weight="bold">10</text>
<text transform="matrix(0.3,0,0,0.312,103.1,1836.87)" font-size="100" font-family="&quot;Liberation Sans&quot;, sans-serif" font-weight="bold">5</text>
<text transform="matrix(0.3,0,0,0.312,103.7,1885.62)" font-size="100" font-family="&quot;Liberation Sans&quot;, sans-serif" font-weight="bold">0</text>
<text transform="matrix(0.302,0,0,0.298,195.74,1919.5)" font-size="100" font-family="&quot;Liberation Sans&quot;, sans-serif" font-weight="bold">Fasting</text>
<text transform="matrix(0.302,0,0,0.298,326.44,1919.5)" font-size="100" font-family="&quot;Liberation Sans&quot;, sans-serif" font-weight="bold">2h post-meal</text>
<text transform="matrix(0.302,0,0,0.298,532.78,1919.5)" font-size="100" font-family="&quot;Liberation Sans&quot;, sans-serif" font-weight="bold">Post-ex</text>
<text transform="matrix(0.302,0,0,0.298,681.8,1919.5)" font-size="100" font-family="&quot;Liberation Sans&quot;, sans-serif" font-weight="bold">3h post-ex</text>
<text transform="matrix(0.3,0,0,0.312,1088.8,591.92)" font-size="100" font-family="&quot;Liberation Sans&quot;, sans-serif" font-weight="bold">0.0</text>
<text transform="matrix(0.3,0,0,0.312,1088.8,511.72)" font-size="100" font-family="&quot;Liberation Sans&quot;, sans-serif" font-weight="bold">0.2</text>
<text transform="matrix(0.3,0,0,0.312,1087.6,431.52)" font-size="100" font-family="&quot;Liberation Sans&quot;, sans-serif" font-weight="bold">0.4</text>
<text transform="matrix(0.3,0,0,0.312,1088.8,351.32)" font-size="100" font-family="&quot;Liberation Sans&quot;, sans-serif" font-weight="bold">0.6</text>
<text transform="matrix(0.3,0,0,0.312,1088.5,271.12)" font-size="100" font-family="&quot;Liberation Sans&quot;, sans-serif" font-weight="bold">0.8</text>
<text transform="matrix(0.3,0,0,0.312,1088.8,190.92)" font-size="100" font-family="&quot;Liberation Sans&quot;, sans-serif" font-weight="bold">1.0</text>
<text transform="matrix(0.3,0,0,0.312,1118.5,1239.32)" font-size="100" font-family="&quot;Liberation Sans&quot;, sans-serif" font-weight="bold">0</text>
<text transform="matrix(0.3,0,0,0.312,1101.7,1105.22)" font-size="100" font-family="&quot;Liberation Sans&quot;, sans-serif" font-weight="bold">50</text>
<text transform="matrix(0.3,0,0,0.312,1084.9,971.12)" font-size="100" font-family="&quot;Liberation Sans&quot;, sans-serif" font-weight="bold">100</text>
<text transform="matrix(0.3,0,0,0.312,1084.9,837.02)" font-size="100" font-family="&quot;Liberation Sans&quot;, sans-serif" font-weight="bold">150</text>
<text transform="matrix(0.3,0,0,0.312,1119.5,1859.82)" font-size="100" font-family="&quot;Liberation Sans&quot;, sans-serif" font-weight="bold">0</text>
<text transform="matrix(0.3,0,0,0.312,1102.7,1725.82)" font-size="100" font-family="&quot;Liberation Sans&quot;, sans-serif" font-weight="bold">10</text>
<text transform="matrix(0.3,0,0,0.312,1102.7,1591.82)" font-size="100" font-family="&quot;Liberation Sans&quot;, sans-serif" font-weight="bold">20</text>
<text transform="matrix(0.3,0,0,0.312,1102.7,1457.82)" font-size="100" font-family="&quot;Liberation Sans&quot;, sans-serif" font-weight="bold">30</text>
</svg>
</body></html>
